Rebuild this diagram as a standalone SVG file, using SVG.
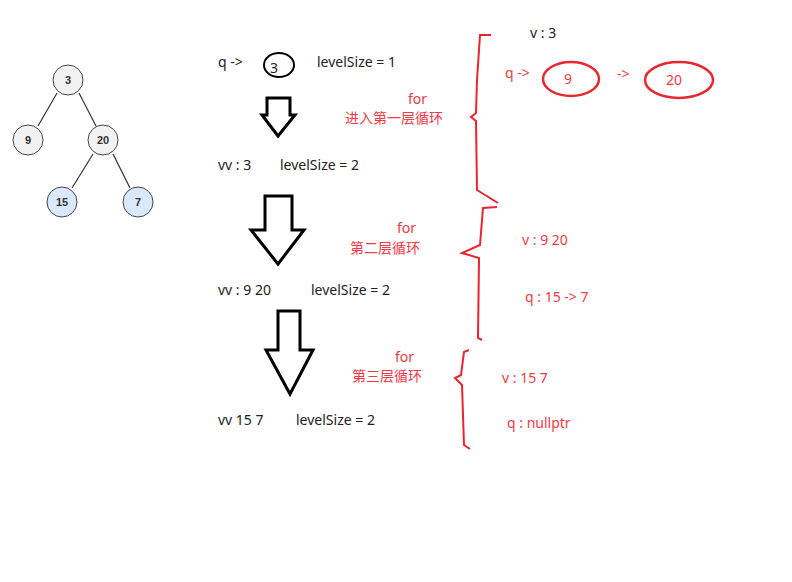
<svg xmlns="http://www.w3.org/2000/svg" width="792" height="582" viewBox="0 0 792 582">
<style>
.t{font-family:"Noto Sans","Noto Sans CJK SC",sans-serif;font-size:14px;fill:#222}
.r{font-family:"Noto Sans","Noto Sans CJK SC",sans-serif;font-size:14px;fill:#f03a47}
.n{font-family:"Liberation Sans",sans-serif;font-size:11px;font-weight:bold;fill:#333;text-anchor:middle}
.g{fill:#f2f2f2;stroke:#444;stroke-width:1}
.b{fill:#dae8fc;stroke:#444;stroke-width:1}
.br{fill:none;stroke:#e8262f;stroke-width:2}
.ar{fill:#fff;stroke:#000;stroke-width:3}
</style>
<rect width="792" height="582" fill="#fff"/>
<g id="edges" stroke="#333" stroke-width="1.2">
<line x1="57" y1="93" x2="38" y2="126"/><line x1="79" y1="93" x2="96" y2="126"/>
<line x1="93" y1="154" x2="72" y2="188"/><line x1="113" y1="154" x2="130" y2="188"/>
</g>
<g id="n3"><circle class="g" cx="68" cy="80" r="15"/><text class="n" x="68" y="84">3</text></g>
<g id="n9"><circle class="g" cx="28" cy="140" r="15"/><text class="n" x="28" y="144">9</text></g>
<g id="n20"><circle class="g" cx="103" cy="140" r="15"/><text class="n" x="103" y="144">20</text></g>
<g id="n15"><circle class="b" cx="62" cy="202" r="15"/><text class="n" x="62" y="206">15</text></g>
<g id="n7"><circle class="b" cx="138" cy="202" r="15"/><text class="n" x="138" y="206">7</text></g>

<g id="left">
<text class="t" x="218" y="67">q  -&gt;</text>
<ellipse cx="279" cy="65" rx="15" ry="12" fill="none" stroke="#000" stroke-width="2"/>
<text class="t" x="270" y="73">3</text>
<text class="t" x="317" y="67">levelSize = 1</text>
<text class="t" x="218" y="170">vv : 3</text><text class="t" x="280" y="170">levelSize = 2</text>
<text class="t" x="218" y="295">vv : 9   20</text><text class="t" x="311" y="295">levelSize = 2</text>
<text class="t" x="218" y="425">vv 15  7</text><text class="t" x="296" y="425">levelSize = 2</text>
</g>
<g id="arrows">
<polygon class="ar" points="267,98 290,98 290,115 295,115 278,136 262,115 267,115"/>
<polygon class="ar" points="265,196 292,196 292,230 304,230 278,264 251,230 265,230"/>
<polygon class="ar" points="278,311 300,311 300,350 313,350 290,394 266,350 278,350"/>
</g>
<g id="labels">
<text class="r" x="408" y="104">for</text>
<text class="r" x="345" y="123">进入第一层循环</text>
<text class="r" x="397" y="233">for</text>
<text class="r" x="350" y="253">第二层循环</text>
<text class="r" x="395" y="362">for</text>
<text class="r" x="352" y="381">第三层循环</text>
</g>
<g id="braces">
<path class="br" d="M491,35 L480,35 L477,80 L476,113 L471,117 L476,121 L477,190 L498,203"/>
<path class="br" d="M497,207 L483,208 L480,245 L462,253 L479,258 L478,338 L482,340"/>
<path class="br" d="M469,350 L464,352 L461,375 L455,378 L462,385 L464,445 L470,449"/>
</g>
<g id="right">
<text class="t" x="530" y="38">v :  3</text>
<text class="r" x="505" y="78">q -&gt;</text>
<ellipse cx="571" cy="79" rx="28" ry="17" fill="none" stroke="#e8262f" stroke-width="2.5"/>
<text class="r" x="564" y="84">9</text>
<text class="r" x="617" y="79">-&gt;</text>
<ellipse cx="679" cy="80" rx="34" ry="18" fill="none" stroke="#e8262f" stroke-width="2.5"/>
<text class="r" x="666" y="85">20</text>
<text class="r" x="522" y="245">v :   9    20</text>
<text class="r" x="525" y="302">q : 15 -&gt;  7</text>
<text class="r" x="502" y="383">v : 15   7</text>
<text class="r" x="507" y="428">q : nullptr</text>
</g>
</svg>
